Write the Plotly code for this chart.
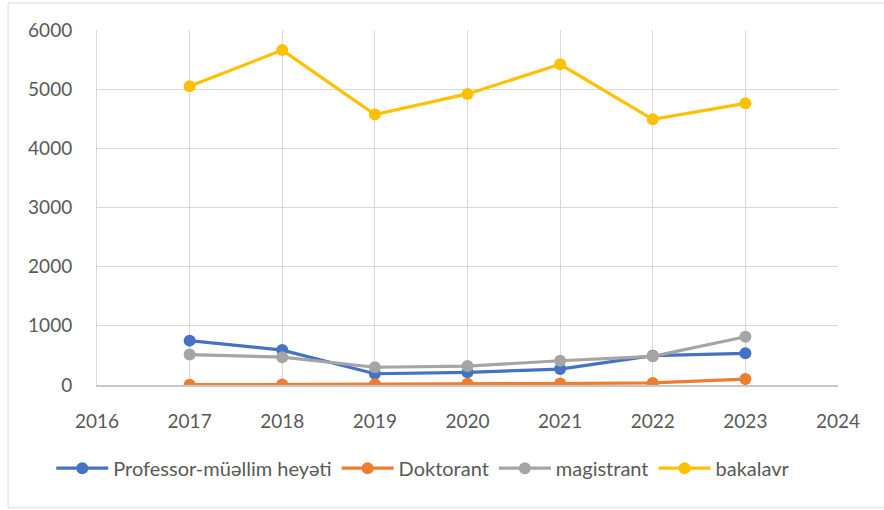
import plotly.graph_objects as go

years = [2017, 2018, 2019, 2020, 2021, 2022, 2023]
professor = [750, 590, 190, 215, 270, 495, 535]
doktorant = [5, 8, 12, 20, 25, 35, 100]
magistrant = [515, 470, 300, 320, 410, 485, 815]
bakalavr = [5050, 5660, 4570, 4920, 5420, 4490, 4760]

series = [
    ("Professor-müəllim heyəti", professor, "#4472C4"),
    ("Doktorant", doktorant, "#ED7D31"),
    ("magistrant", magistrant, "#A5A5A5"),
    ("bakalavr", bakalavr, "#FFC000"),
]

fig = go.Figure()
for name, vals, color in series:
    fig.add_trace(go.Scatter(
        x=years, y=vals, name=name, mode="lines+markers",
        line=dict(color=color, width=3.2),
        marker=dict(color=color, size=12),
    ))

tick_font = dict(family="Lato, 'Open Sans', sans-serif", size=19, color="#595959")
legend_font = dict(family="Lato, 'Open Sans', sans-serif", size=20, color="#595959")

fig.update_layout(
    width=884, height=510,
    margin=dict(l=97, r=46, t=30, b=125),
    paper_bgcolor="white", plot_bgcolor="white",
    font=tick_font,
    showlegend=True,
    legend=dict(orientation="h", xref="container", x=0.058, xanchor="left",
                yref="container", y=0.082, yanchor="middle",
                font=legend_font, itemwidth=52, tracegroupgap=0),
    shapes=[dict(type="rect", xref="paper", yref="paper",
                 x0=-0.12, x1=1.08, y0=-0.346, y1=1.076,
                 line=dict(color="#d9d9d9", width=1), layer="below")],
)

fig.update_xaxes(
    range=[2016, 2024], dtick=1, tick0=2016,
    showgrid=True, gridcolor="#d9d9d9", gridwidth=1,
    zeroline=False, showline=True, linecolor="#c8c8c8", linewidth=1.5,
    ticks="", tickfont=tick_font, ticklabelstandoff=18,
)
fig.update_yaxes(
    range=[0, 6000], dtick=1000,
    showgrid=True, gridcolor="#d9d9d9", gridwidth=1,
    zeroline=False, showline=True, linecolor="#d9d9d9", linewidth=1,
    ticks="", tickfont=tick_font, ticklabelstandoff=20,
)

fig.write_html("out.html", config={"displayModeBar": False},
               post_script="document.body.style.margin='0px';")
